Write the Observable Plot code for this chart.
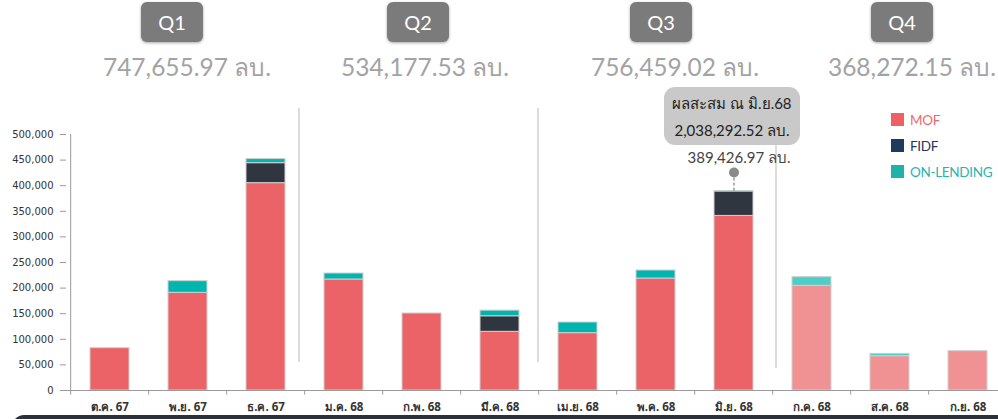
<!DOCTYPE html>
<html><head><meta charset="utf-8">
<script src="https://cdn.jsdelivr.net/npm/d3@7"></script>
<script src="https://cdn.jsdelivr.net/npm/@observablehq/plot@0.6"></script>
<style>
html,body{margin:0;padding:0;background:#fff;}
#wrap{position:relative;width:998px;height:419px;overflow:hidden;font-family:Lato,"Noto Sans",sans-serif;}
#wrap svg{position:absolute;left:0;top:0;max-width:none !important;}
.qbox{position:absolute;top:2px;width:62px;height:40px;background:#7b7b7b;border-radius:6px;color:#fff;font-size:20px;line-height:40px;text-align:center;box-shadow:0 1px 3px rgba(0,0,0,.35);}
.qval{position:absolute;top:50px;width:220px;text-align:center;font-size:24.5px;color:#a3a3a3;white-space:nowrap;line-height:34px;}
.sep{position:absolute;width:2px;background:#dcdcdc;}
.tip{position:absolute;left:664px;top:87px;width:136px;height:58px;background:#c9c9c9;border-radius:11px;color:#222;font-size:15px;text-align:center;line-height:27px;padding-top:3px;box-sizing:border-box;}
.leg{position:absolute;left:891px;font-size:13.5px;line-height:14px;white-space:nowrap;letter-spacing:-0.3px;}
.leg span.sw{display:inline-block;width:13px;height:13px;vertical-align:top;margin-right:6px;}
.bottom{position:absolute;left:12px;top:415px;width:1000px;height:20px;background:#2c3139;border-radius:12px 0 0 0;}
</style></head>
<body><div id="wrap"></div>
<script>
const months = ["ต.ค. 67","พ.ย. 67","ธ.ค. 67","ม.ค. 68","ก.พ. 68","มี.ค. 68","เม.ย. 68","พ.ค. 68","มิ.ย. 68","ก.ค. 68","ส.ค. 68","ก.ย. 68"];
const mof       = [82600, 190800, 405000, 216800, 150400, 114600, 112000, 218700, 341000, 204400, 67000, 76800];
const fidf      = [0, 0, 39000, 0, 0, 30400, 0, 0, 47700, 0, 0, 0];
const onLending = [0, 22700, 8000, 11700, 0, 11000, 20800, 15700, 700, 17000, 4600, 0];
const projected = [false,false,false,false,false,false,false,false,false,true,true,true];
const quarters = ["Q1","Q2","Q3","Q4"];
const quarterTotals = ["747,655.97","534,177.53","756,459.02","368,272.15"];
const highlightMonth = "มิ.ย. 68";
const highlightTotal = 389426.97;
const cumulativeLabel = "ผลสะสม ณ มิ.ย.68";
const cumulativeValue = "2,038,292.52";
const yTicks = [0,50000,100000,150000,200000,250000,300000,350000,400000,450000,500000];

const colors = {
  MOF: ["#ec6367", "#f09293"],
  FIDF: ["#2f3640", "#2f3640"],
  "ON-LENDING": ["#00b5ad", "#4fcdc7"]
};
const series = [["MOF", mof], ["FIDF", fidf], ["ON-LENDING", onLending]];
const rows = [];
months.forEach((m, i) => {
  series.forEach(([name, vals]) => {
    rows.push({month: m, series: name, value: vals[i], color: colors[name][projected[i] ? 1 : 0]});
  });
});

const W = 1010, H = 419;
const step = (W - 66 - 0) / months.length;
const fmt = d3.format(",");

const chart = Plot.plot({
  width: W, height: H,
  marginLeft: 66, marginRight: 0, marginTop: 134, marginBottom: 29,
  style: {background: "transparent", overflow: "visible", maxWidth: "none", width: W + "px", height: H + "px"},
  x: {domain: months, paddingInner: 0.5, paddingOuter: 0.25, label: null},
  y: {domain: [0, 500000], label: null},
  marks: [
    Plot.barY(rows, {x: "month", y: "value", fill: "color", stroke: "#d0d0d0", strokeWidth: 1, order: ["MOF","FIDF","ON-LENDING"]}),
    Plot.ruleY([0], {stroke: "#9a9a9a", strokeWidth: 1}),
    Plot.ruleX([months[0]], {x: d => d, dx: -step / 2, y1: 0, y2: 500000, stroke: "#9a9a9a"}),
    Plot.ruleX(months, {x: d => d, dx: -step / 2, y1: 0, y2: -9000, stroke: "#9a9a9a"}),
    Plot.axisY({ticks: yTicks, tickFormat: fmt, tickSize: 6, tickPadding: 7, fontSize: 10, fontFamily: "DejaVu Sans", fill: "#333", stroke: "#9a9a9a"}),
    Plot.axisX({tickSize: 0, tickPadding: 12, fontSize: 11.5, fontWeight: "bold", fontFamily: "Tahoma, 'Noto Sans', sans-serif", fill: "#333"}),
    Plot.ruleX([highlightMonth], {x: d => d, y1: highlightTotal, y2: 420000, stroke: "#666", strokeDasharray: "3,2", strokeWidth: 1}),
    Plot.dot([highlightMonth], {x: d => d, y: 425800, r: 5, fill: "#8a8a8a", stroke: null}),
    Plot.text([highlightMonth], {x: d => d, y: 453000, dx: 5, text: () => fmt(highlightTotal) + " ลบ.", fontSize: 15, fill: "#444", fontFamily: "Lato, 'Noto Sans', sans-serif"})
  ]
});

const wrap = document.getElementById("wrap");
wrap.appendChild(chart);

// separators
[[298,108,362],[537,108,362],[775,108,368]].forEach(([x,t,b]) => {
  const d = document.createElement("div"); d.className = "sep";
  d.style.left = x + "px"; d.style.top = t + "px"; d.style.height = (b - t) + "px";
  wrap.insertBefore(d, chart);
});

// quarter headers
const qBoxX = [141, 387, 630, 871];
const qValX = [187, 425, 675, 912];
quarters.forEach((q, i) => {
  const b = document.createElement("div"); b.className = "qbox"; b.textContent = q;
  b.style.left = qBoxX[i] + "px"; wrap.appendChild(b);
  const v = document.createElement("div"); v.className = "qval"; v.textContent = quarterTotals[i] + " ลบ.";
  v.style.left = (qValX[i] - 110) + "px"; wrap.appendChild(v);
});

// tooltip box
const tip = document.createElement("div"); tip.className = "tip";
tip.innerHTML = cumulativeLabel + "<br>" + cumulativeValue + " ลบ.";
wrap.appendChild(tip);

// legend
const legColors = [["MOF","#ef6065","#ee6a6c"],["FIDF","#1f3b5c","#24395a"],["ON-LENDING","#20b2a8","#26b5ad"]];
legColors.forEach(([name, sw, tc], i) => {
  const l = document.createElement("div"); l.className = "leg";
  l.style.top = (113 + i * 26) + "px"; l.style.color = tc;
  l.innerHTML = `<span class="sw" style="background:${sw}"></span>${name}`;
  wrap.appendChild(l);
});

const bt = document.createElement("div"); bt.className = "bottom"; wrap.appendChild(bt);
</script>
</body></html>
